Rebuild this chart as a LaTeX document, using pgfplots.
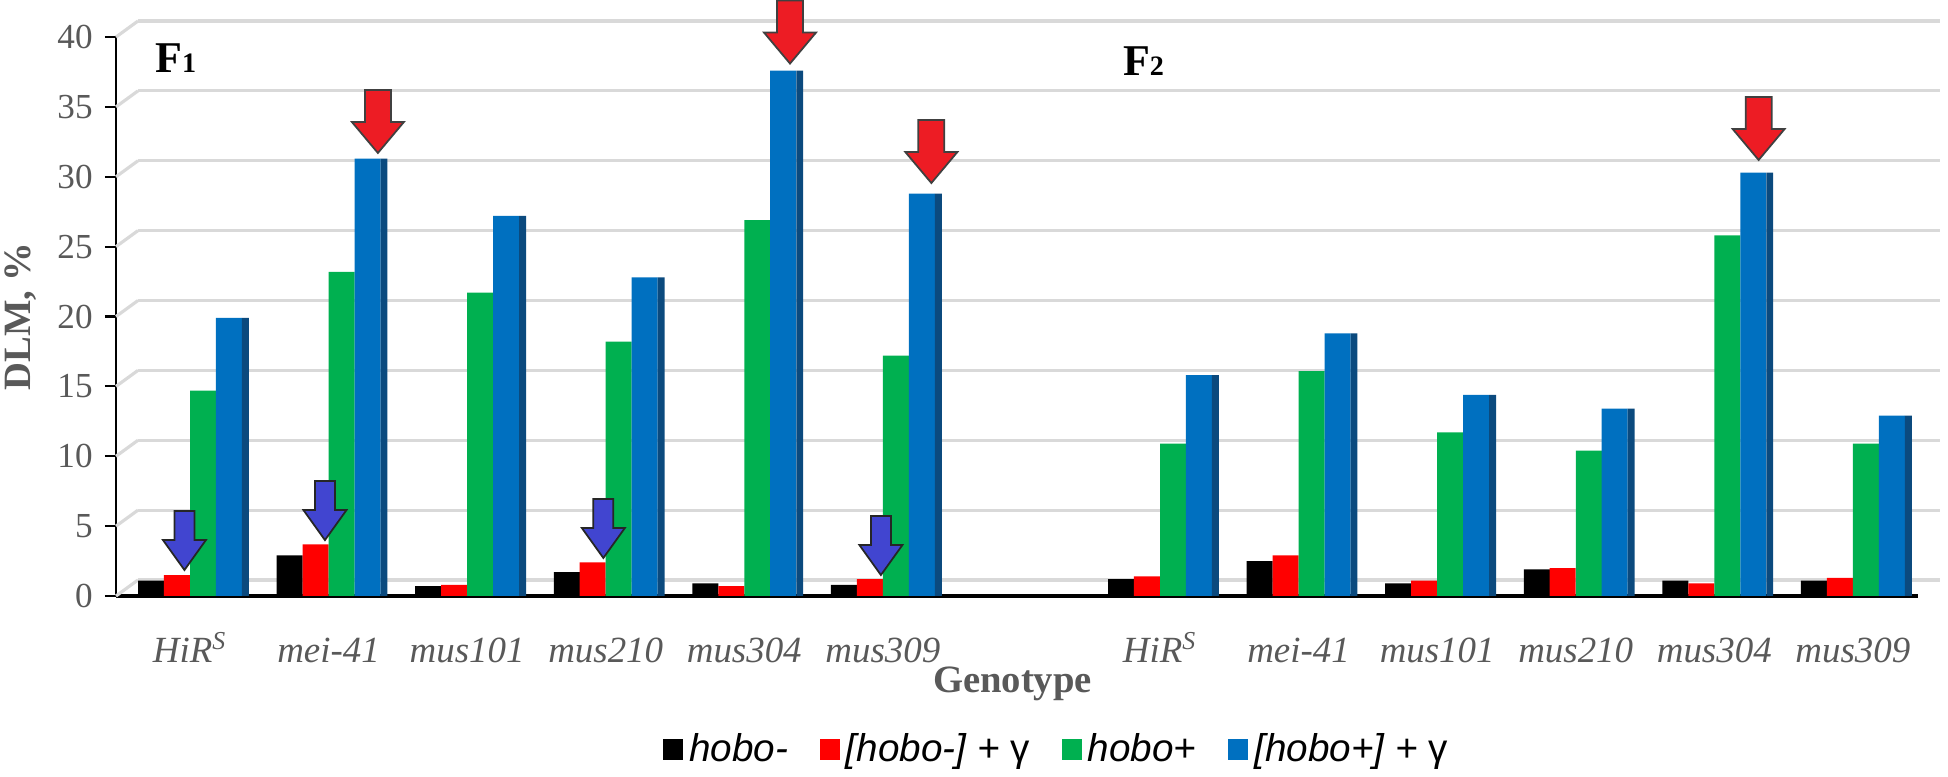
\documentclass[border=0pt]{standalone}
\usepackage{pgfplots}
\pgfplotsset{compat=1.18}
\usepackage{pgfplotstable}
\usepackage{fontspec}
\setmainfont{Liberation Serif}
\newfontfamily\legfont{Liberation Sans}
\definecolor{cblack}{HTML}{000000}
\definecolor{cred}{HTML}{FF0000}
\definecolor{cgreen}{HTML}{00B050}
\definecolor{cblue}{HTML}{0070C0}
\definecolor{cblueside}{HTML}{0B4A7E}
\definecolor{arrowred}{HTML}{ED1C24}
\definecolor{arrowblue}{HTML}{4145D0}
\definecolor{tickgray}{HTML}{595959}
\definecolor{gridc}{HTML}{D9D9D9}

\pgfplotstableread{
x a b c d
0 1.1 1.5 14.7 19.9
1 2.9 3.7 23.2 31.3
2 0.7 0.8 21.7 27.2
3 1.7 2.4 18.2 22.8
4 0.9 0.7 26.9 37.6
5 0.8 1.2 17.2 28.8
7 1.2 1.4 10.9 15.8
8 2.5 2.9 16.1 18.8
9 0.9 1.1 11.7 14.4
10 1.9 2.0 10.4 13.4
11 1.1 0.9 25.8 30.3
12 1.1 1.3 10.9 12.9
}\datatable

\newcommand{\cv}[2]{(canvas cs:x=#1,y=#2)}
\newcommand{\redarrow}[2]{\draw[fill=arrowred, draw=black!75, line width=0.5pt]
 (axis cs:#1,#2) -- ++\cv{-2.6mm}{3.1mm} -- ++\cv{1.3mm}{0mm} -- ++\cv{0mm}{3.2mm} -- ++\cv{2.6mm}{0mm} -- ++\cv{0mm}{-3.2mm} -- ++\cv{1.3mm}{0mm} -- cycle;}
\newcommand{\bluearrow}[2]{\draw[fill=arrowblue, draw=black!85, line width=0.5pt]
 (axis cs:#1,#2) -- ++\cv{-2.15mm}{3.0mm} -- ++\cv{1.15mm}{0mm} -- ++\cv{0mm}{2.9mm} -- ++\cv{2.0mm}{0mm} -- ++\cv{0mm}{-2.9mm} -- ++\cv{1.15mm}{0mm} -- cycle;}

\begin{document}
\begin{tikzpicture}
\begin{axis}[
  scale only axis,
  width=180.2mm, height=55.9mm,
  xmin=-0.534, xmax=12.47,
  ymin=0, ymax=40,
  clip=false,
  axis x line*=bottom, axis y line*=left,
  x axis line style={-, line width=1.1pt, black},
  y axis line style={-, line width=0.6pt, black},
  xtick={0,1,2,3,4,5,7,8,9,10,11,12},
  xticklabels={{HiR\textsuperscript{S}},mei-41,mus101,mus210,mus304,mus309,{HiR\textsuperscript{S}},mei-41,mus101,mus210,mus304,mus309},
  x tick style={draw=none},
  xticklabel style={font=\fontsize{10.5}{12}\selectfont\itshape, text=tickgray, anchor=base, yshift=-5.6mm},
  ytick={0,5,...,40},
  tick align=outside,
  major tick length=1.1mm,
  y tick style={black, line width=0.6pt},
  /pgf/number format/assume math mode=true,
  yticklabel style={font=\fontsize{10}{12}\selectfont, text=tickgray},
  ymajorgrids,
  major grid style={gridc, line width=0.9pt, xshift=2.2mm, yshift=1.6mm},
  ylabel={DLM, \%},
  ylabel style={at={(axis description cs:-0.053,0.5)}, anchor=center, font=\fontsize{11}{13}\selectfont\bfseries, text=tickgray},
  xlabel={Genotype},
  xlabel style={at={(axis description cs:0.4975,-0.172)}, anchor=base, font=\fontsize{11}{13}\selectfont\bfseries, text=tickgray},
  legend columns=4,
  legend style={at={(0.523,-0.2755)}, anchor=center, draw=none, fill=none,
    font=\legfont\fontsize{11}{13}\selectfont\itshape,
    /tikz/every even column/.append style={column sep=2.6mm},
    nodes={inner sep=0.6mm}},
  legend image code/.code={\fill[#1, draw=none] (0mm,-1mm) rectangle (2mm,1.1mm);},
]
\pgfplotsinvokeforeach{0,5,10,15,20,25,30,35,40}{
  \draw[gridc, line width=0.9pt] (axis cs:-0.534,#1) -- ++(canvas cs:x=2.2mm,y=1.6mm);
}
\addplot[ybar, bar shift=-0.281, bar width=0.1876, fill=cblack, draw=none] table[x=x,y=a]{\datatable};
\addlegendentry{hobo-}
\addplot[ybar, bar shift=-0.094, bar width=0.1876, fill=cred, draw=none] table[x=x,y=b]{\datatable};
\addlegendentry{{}[hobo-] + \textup{γ}}
\addplot[ybar, bar shift=0.094, bar width=0.1876, fill=cgreen, draw=none] table[x=x,y=c]{\datatable};
\addlegendentry{hobo+}
\addplot[ybar, bar shift=0.281, bar width=0.1876, fill=cblue, draw=none] table[x=x,y=d]{\datatable};
\addlegendentry{{}[hobo+] + \textup{γ}}
\addplot[ybar, bar shift=0.400, bar width=0.05, fill=cblueside, draw=none, forget plot] table[x=x,y=d]{\datatable};

\node[anchor=base west, font=\fontsize{12.5}{14}\selectfont\bfseries] at (axis description cs:0.0149,0.937) {F{\fontsize{8}{9}\selectfont 1}};
\node[anchor=base west, font=\fontsize{12.5}{14}\selectfont\bfseries] at (axis description cs:0.552,0.932) {F{\fontsize{8}{9}\selectfont 2}};

\redarrow{1.356}{31.7}
\redarrow{4.33}{38.1}
\redarrow{5.35}{29.55}
\redarrow{11.32}{31.2}
\bluearrow{-0.04}{1.86}
\bluearrow{0.974}{4.0}
\bluearrow{2.983}{2.72}
\bluearrow{4.986}{1.5}
\end{axis}
\pgfresetboundingbox
\path[use as bounding box] (-11.6mm,-18.1mm) rectangle (183.2mm,59.6mm);
\end{tikzpicture}
\end{document}
